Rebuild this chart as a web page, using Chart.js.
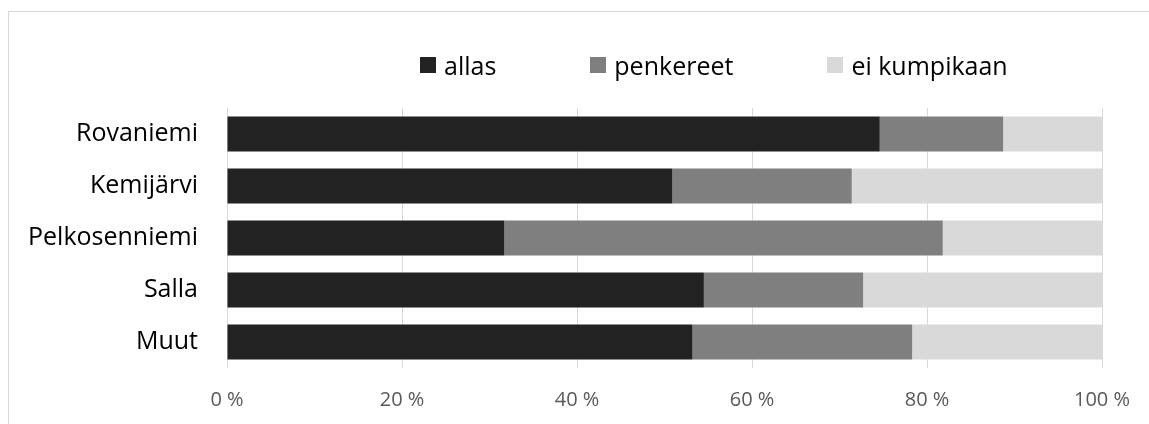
<!DOCTYPE html>
<html>
<head>
<meta charset="utf-8">
<script src="https://cdn.jsdelivr.net/npm/chart.js@4.4.1/dist/chart.umd.min.js"></script>
<style>
  html, body { margin: 0; padding: 0; background: #fff; overflow: hidden; }
  #wrap { position: relative; width: 1149px; height: 424px; }
  #frame { position: absolute; left: 8px; top: 11px; width: 1300px; height: 600px;
           border: 1px solid #d9d9d9; box-sizing: border-box; }
  #chart { position: absolute; left: 0; top: 0; }
  #legend { position: absolute; left: 420px; top: 50px; display: flex; align-items: center;
            font-family: 'Open Sans', sans-serif; font-size: 25px; color: #000; line-height: 30px; }
  .item { display: flex; align-items: center; margin-right: 94px; }
  .box { width: 16px; height: 16px; margin-right: 8px; }
</style>
</head>
<body>
<div id="wrap">
  <div id="frame"></div>
  <canvas id="chart" width="1149" height="424"></canvas>
  <div id="legend"></div>
</div>
<script>
const categories = ['Rovaniemi', 'Kemijärvi', 'Pelkosenniemi', 'Salla', 'Muut'];
const seriesNames = ['allas', 'penkereet', 'ei kumpikaan'];
const allas = [74.6, 50.9, 31.7, 54.5, 53.2];
const penkereet = [14.1, 20.5, 50.1, 18.2, 25.1];
const eiKumpikaan = [11.3, 28.6, 18.2, 27.3, 21.7];
const tickValues = [0, 20, 40, 60, 80, 100];
const colors = ['#222222', '#7f7f7f', '#d9d9d9'];

const seriesData = [allas, penkereet, eiKumpikaan];
const datasets = seriesNames.map((name, i) => ({
  label: name,
  data: seriesData[i],
  backgroundColor: colors[i],
  borderWidth: 0,
  categoryPercentage: 0.67,
  barPercentage: 1.0
}));

new Chart(document.getElementById('chart'), {
  type: 'bar',
  data: { labels: categories, datasets },
  options: {
    indexAxis: 'y',
    responsive: false,
    animation: false,
    layout: { padding: { top: 108, left: 0, right: 47, bottom: 12 } },
    plugins: { legend: { display: false }, tooltip: { enabled: false } },
    scales: {
      x: {
        stacked: true,
        min: 0, max: 100,
        afterBuildTicks: s => { s.ticks = tickValues.map(v => ({ value: v })); },
        afterFit: s => { s.paddingLeft = 0; s.paddingRight = 0; s.height = 44; },
        grid: { color: '#d9d9d9', lineWidth: 1, drawTicks: false },
        border: { display: false },
        ticks: {
          padding: 20,
          color: '#595959',
          font: { family: "'Open Sans'", size: 20 },
          callback: v => v + ' %'
        }
      },
      y: {
        stacked: true,
        afterFit: s => { s.width = 227; },
        grid: { display: false, drawTicks: false },
        border: { display: false },
        ticks: {
          padding: 29,
          color: '#000000',
          font: { family: "'Open Sans'", size: 25 }
        }
      }
    }
  }
});

const legend = document.getElementById('legend');
datasets.forEach(ds => {
  const item = document.createElement('div');
  item.className = 'item';
  const box = document.createElement('div');
  box.className = 'box';
  box.style.background = ds.backgroundColor;
  const txt = document.createElement('span');
  txt.textContent = ds.label;
  item.appendChild(box);
  item.appendChild(txt);
  legend.appendChild(item);
});
</script>
</body>
</html>
